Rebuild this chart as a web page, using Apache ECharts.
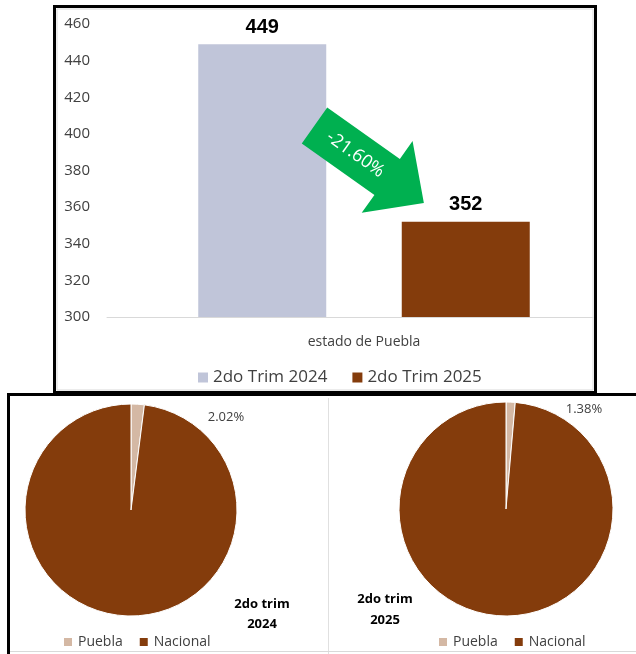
<!DOCTYPE html>
<html>
<head>
<meta charset="utf-8">
<script src="https://cdn.jsdelivr.net/npm/echarts@6/dist/echarts.min.js"></script>
<style>
  html, body { margin: 0; padding: 0; background: #fff; }
  #chart { width: 636px; height: 654px; }
</style>
</head>
<body>
<div id="chart"></div>
<script>
  // datos
  var categorias = ['estado de Puebla'];
  var serieNombres = ['2do Trim 2024', '2do Trim 2025'];
  var valores2024 = [449];
  var valores2025 = [352];
  var yTicks = { min: 300, max: 460, interval: 20 };
  var variacion = '-21.60%';

  var pieNombres = ['Puebla', 'Nacional'];
  var pieTitulos = ['2do trim\n2024', '2do trim\n2025'];
  var pueblaPct = [2.02, 1.38];
  var nacionalPct = [97.98, 98.62];

  var cafe = '#843C0C';
  var tan = '#D4B8A4';
  var lila = '#C0C5D9';
  var fuente = '"Open Sans", Lato, sans-serif';

  var chart = echarts.init(document.getElementById('chart'));

  function pieSerie(i, centro, radio, lx, ly) {
    return {
      type: 'pie',
      center: centro,
      radius: radio,
      startAngle: 90,
      clockwise: true,
      silent: true,
      itemStyle: { borderColor: '#fff', borderWidth: 1 },
      labelLine: { show: false },
      labelLayout: { x: lx, y: ly, align: 'center', verticalAlign: 'middle' },
      data: [
        {
          name: pieNombres[0], value: pueblaPct[i], itemStyle: { color: tan },
          label: {
            show: true, fontFamily: fuente, fontSize: 13, color: '#404040',
            formatter: function (p) { return p.value.toFixed(2) + '%'; }
          }
        },
        { name: pieNombres[1], value: nacionalPct[i], itemStyle: { color: cafe }, label: { show: false } }
      ]
    };
  }

  chart.setOption({
    backgroundColor: '#fff',
    animation: false,
    title: [
      {
        text: pieTitulos[0], left: 257, top: 589, textAlign: 'center',
        textStyle: { fontFamily: fuente, fontSize: 13, fontWeight: 'bold', color: '#000', lineHeight: 20 }
      },
      {
        text: pieTitulos[1], left: 380, top: 584, textAlign: 'center',
        textStyle: { fontFamily: fuente, fontSize: 13, fontWeight: 'bold', color: '#000', lineHeight: 21 }
      }
    ],
    legend: [
      {
        data: serieNombres, left: 198, top: 369, padding: 0, icon: 'rect',
        itemWidth: 10, itemHeight: 10, itemGap: 25, selectedMode: false,
        textStyle: { fontFamily: fuente, fontSize: 17, color: '#404040' }
      },
      {
        data: pieNombres, left: 62, top: 635, padding: 0, icon: 'rect',
        itemWidth: 10, itemHeight: 10, itemGap: 15, selectedMode: false,
        textStyle: { fontFamily: fuente, fontSize: 14, color: '#404040' }
      },
      {
        data: pieNombres, left: 437, top: 635, padding: 0, icon: 'rect',
        itemWidth: 10, itemHeight: 10, itemGap: 15, selectedMode: false,
        textStyle: { fontFamily: fuente, fontSize: 14, color: '#404040' }
      }
    ],
    grid: [
      { left: 121, right: 29, top: 24, bottom: 337 },
      { left: 107, right: 43, top: 24, bottom: 337 }
    ],
    xAxis: [
      {
        type: 'category', gridIndex: 0, data: categorias,
        axisLine: { show: false }, axisTick: { show: false },
        axisLabel: { margin: 18, fontFamily: fuente, fontSize: 14, color: '#404040' }
      },
      {
        type: 'category', gridIndex: 1, data: categorias,
        axisLine: { lineStyle: { color: '#d9d9d9', width: 1 } },
        axisTick: { show: false }, axisLabel: { show: false }
      }
    ],
    yAxis: [
      {
        type: 'value', gridIndex: 0,
        min: yTicks.min, max: yTicks.max, interval: yTicks.interval,
        splitLine: { show: false }, axisLine: { show: false }, axisTick: { show: false },
        axisLabel: { margin: 31, fontFamily: fuente, fontSize: 15, color: '#404040' }
      },
      {
        type: 'value', gridIndex: 1, min: yTicks.min, max: yTicks.max, show: false
      }
    ],
    series: [
      {
        name: serieNombres[0], type: 'bar', data: valores2024,
        barWidth: 128, barGap: '59%',
        itemStyle: { color: lila },
        label: {
          show: true, position: 'top', distance: 7,
          fontFamily: '"Liberation Sans", Arial, sans-serif', fontSize: 20, fontWeight: 'bold', color: '#000'
        }
      },
      {
        name: serieNombres[1], type: 'bar', data: valores2025,
        barWidth: 128, barGap: '59%',
        itemStyle: { color: cafe },
        label: {
          show: true, position: 'top', distance: 7,
          fontFamily: '"Liberation Sans", Arial, sans-serif', fontSize: 20, fontWeight: 'bold', color: '#000'
        }
      },
      pieSerie(0, [131, 510], 106, 226, 417),
      pieSerie(1, [506, 509], 107, 584, 409)
    ],
    graphic: [
      // marcos
      { type: 'rect', shape: { x: 57, y: 9, width: 536, height: 381 }, style: { fill: 'none', stroke: '#d9d9d9', lineWidth: 1 }, silent: true },
      { type: 'rect', shape: { x: 54.5, y: 6.5, width: 541, height: 386 }, style: { fill: 'none', stroke: '#000', lineWidth: 3 }, silent: true },
      { type: 'line', shape: { x1: 328.5, y1: 398, x2: 328.5, y2: 654 }, style: { stroke: '#e0e0e0', lineWidth: 1 }, silent: true },
      { type: 'line', shape: { x1: 10, y1: 651.5, x2: 636, y2: 651.5 }, style: { stroke: '#d9d9d9', lineWidth: 1 }, silent: true },
      { type: 'rect', shape: { x: 8.5, y: 394.5, width: 640, height: 300 }, style: { fill: 'none', stroke: '#000', lineWidth: 3 }, silent: true },
      // flecha de variacion
      {
        type: 'group', x: 314.5, y: 125.5, rotation: -0.616, silent: true, z: 100,
        children: [
          {
            type: 'polygon', z: 100,
            shape: { points: [[0, -22], [89, -22], [89, -44], [134, 0], [89, 44], [89, 22], [0, 22]] },
            style: { fill: '#00B050' }
          },
          {
            type: 'text', x: 50, y: 0, z: 101,
            style: {
              text: variacion, fill: '#fff', font: '18px ' + fuente,
              align: 'center', verticalAlign: 'middle'
            }
          }
        ]
      }
    ]
  });
</script>
</body>
</html>
